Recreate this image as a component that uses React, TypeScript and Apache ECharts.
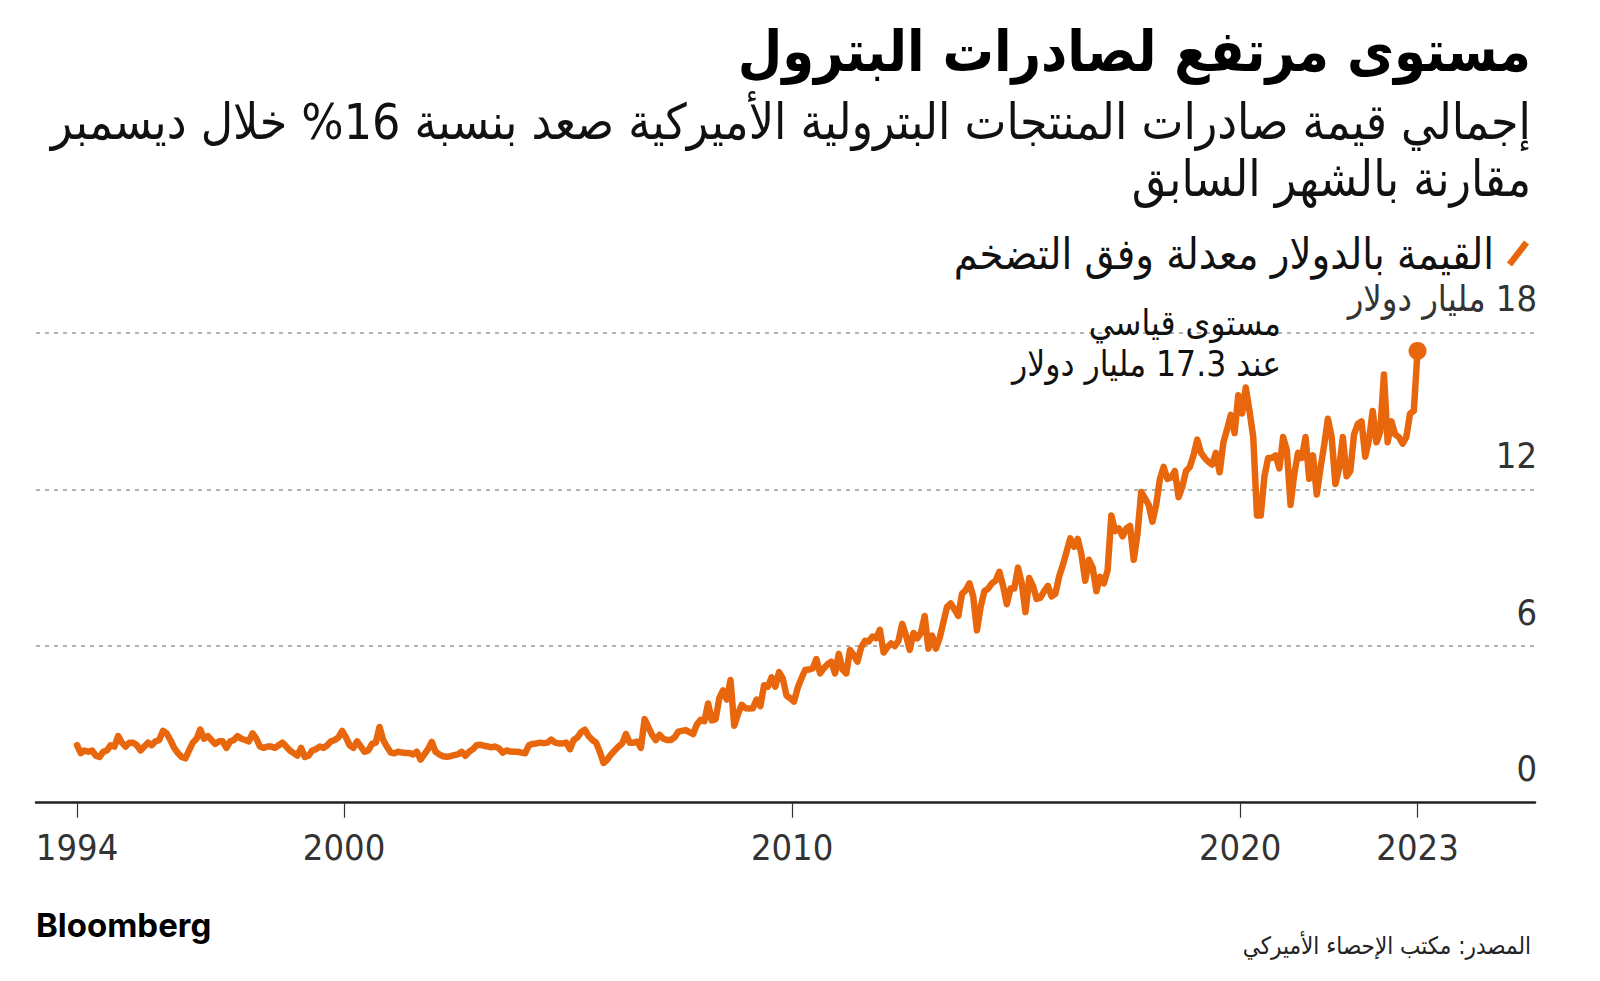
import React, { useEffect, useRef } from "react";
import * as echarts from "echarts";

// Inflation-adjusted value of US petroleum product exports, billions of dollars, monthly
const FIRST_YEAR = 1994;
const values1994_1998 = [
  2.2, 1.9, 2.0, 1.95, 2.0, 1.8, 1.75, 1.95, 2.0, 2.2, 2.15, 2.55,
  2.3, 2.15, 2.3, 2.3, 2.2, 2.0, 2.15, 2.3, 2.2, 2.35, 2.4, 2.75,
  2.65, 2.4, 2.1, 1.9, 1.75, 1.7, 2.0, 2.3, 2.45, 2.8, 2.45, 2.55,
  2.4, 2.25, 2.35, 2.35, 2.1, 2.35, 2.4, 2.55, 2.45, 2.4, 2.35, 2.65,
  2.45, 2.15, 2.1, 2.15, 2.15, 2.1, 2.2, 2.3, 2.15, 2.0, 1.9, 1.8,
];
const values1999_2003 = [
  2.1, 1.75, 1.8, 2.0, 2.05, 2.15, 2.1, 2.2, 2.35, 2.4, 2.5, 2.75,
  2.5, 2.2, 2.1, 2.35, 2.15, 1.95, 2.0, 2.25, 2.3, 2.9, 2.4, 2.14,
  1.92, 1.89, 1.95, 1.92, 1.9, 1.9, 1.85, 1.95, 1.65, 1.85, 2.05, 2.33,
  1.95, 1.85, 1.78, 1.76, 1.78, 1.82, 1.85, 1.95, 1.8, 1.95, 2.05, 2.2,
  2.22, 2.18, 2.15, 2.12, 2.15, 2.08, 1.92, 2.0, 1.96, 1.95, 1.95, 1.92,
];
const values2004_2008 = [
  1.89, 2.2, 2.25, 2.27, 2.3, 2.28, 2.3, 2.42, 2.3, 2.27, 2.27, 2.3,
  2.05, 2.4, 2.5, 2.7, 2.8, 2.55, 2.4, 2.3, 1.95, 1.52, 1.65, 1.85,
  2.0, 2.15, 2.27, 2.63, 2.3, 2.3, 2.34, 2.1, 3.2, 2.9, 2.6, 2.4,
  2.6, 2.45, 2.4, 2.4, 2.5, 2.72, 2.75, 2.78, 2.7, 2.63, 3.0, 3.17,
  3.12, 3.8, 3.15, 3.2, 4.0, 4.3, 3.95, 4.7, 2.95, 3.4, 3.75, 3.62,
];
const values2009_2013 = [
  3.61, 3.62, 3.95, 3.7, 4.5, 4.44, 4.8, 4.44, 5.0, 4.76, 4.1, 4.0,
  3.87, 4.4, 4.76, 5.08, 5.1, 5.14, 5.5, 4.95, 5.15, 5.3, 5.4, 4.95,
  5.7, 5.1, 4.95, 5.85, 5.65, 5.4, 5.95, 6.2, 6.17, 6.36, 6.3, 6.62,
  5.75, 5.95, 6.1, 6.0, 6.2, 6.85, 6.4, 5.85, 6.5, 6.29, 6.5, 7.15,
  5.9, 6.4, 5.9, 6.3, 6.9, 7.5, 7.63, 7.4, 7.15, 8.0, 8.14, 8.4,
];
const values2014_2018 = [
  7.9, 6.6, 7.5, 8.1, 8.2, 8.4, 8.5, 8.84, 8.3, 7.6, 8.2, 8.2,
  9.0, 8.4, 7.3, 8.6, 8.3, 7.8, 7.85, 8.1, 8.3, 7.9, 8.0, 8.65,
  9.1, 9.6, 10.12, 9.8, 10.1, 9.5, 8.5, 9.3, 9.0, 8.1, 8.65, 8.4,
  8.9, 11.0, 10.4, 10.5, 10.2, 10.5, 10.6, 9.3, 10.3, 11.9, 11.65, 11.4,
  10.76, 11.4, 12.4, 12.86, 12.4, 12.45, 12.7, 11.7, 12.1, 12.7, 12.85, 13.3,
];
const values2019_2023 = [
  13.9, 13.4, 13.2, 13.05, 12.95, 13.4, 12.65, 13.8, 14.3, 14.85, 14.15, 15.6,
  14.9, 15.9, 15.0, 14.0, 11.0, 11.0, 12.5, 13.2, 13.2, 13.3, 12.8, 14.0,
  13.5, 11.4, 12.6, 13.4, 13.2, 14.0, 12.4, 13.3, 11.8, 12.8, 13.7, 14.7,
  14.0, 12.2, 12.8, 14.0, 12.5, 12.7, 14.1, 14.5, 14.6, 13.25, 13.9, 15.0,
  13.8, 14.2, 16.4, 13.8, 14.6, 14.1, 14.0, 13.75, 14.0, 14.9, 15.0, 17.3,
];

const yTicks = [0, 6, 12, 18];
const yUnit = "مليار دولار";
const xTickYears = [1994, 2000, 2010, 2020, 2023];

const TITLE = "مستوى مرتفع لصادرات البترول";
const SUBTITLE =
  "إجمالي قيمة صادرات المنتجات البترولية الأميركية صعد بنسبة 16% خلال ديسمبر\nمقارنة بالشهر السابق";
const SERIES_NAME = "القيمة بالدولار معدلة وفق التضخم";
const ANNOTATION = "مستوى قياسي\nعند 17.3 مليار دولار";
const SOURCE = "المصدر: مكتب الإحصاء الأميركي";

const ORANGE = "#e8670d";
const AR = "'DejaVu Sans Condensed', 'DejaVu Sans', sans-serif";
const NUM = "'Liberation Sans Narrow', 'DejaVu Sans Condensed', 'Roboto', sans-serif";

export default function App() {
  const ref = useRef<HTMLDivElement>(null);

  useEffect(() => {
    document.body.style.margin = "0";
    if (!ref.current) return;
    const chart = echarts.init(ref.current, undefined, { renderer: "svg" });

    const all = [
      ...values1994_1998,
      ...values1999_2003,
      ...values2004_2008,
      ...values2009_2013,
      ...values2014_2018,
      ...values2019_2023,
    ];
    const points = all.map((v, i) => [FIRST_YEAR + (i + 0.5) / 12, v]);
    const firstX = points[0][0];
    const last = points[points.length - 1];
    const tickXs = xTickYears.map((y, k) =>
      k === 0 ? firstX : k === xTickYears.length - 1 ? last[0] : y
    );

    chart.setOption({
      animation: false,
      backgroundColor: "#ffffff",
      grid: { left: 36, right: 65, top: 332.6, bottom: 178.3 },
      legend: {
        data: [SERIES_NAME],
        right: 66,
        top: 227,
        align: "right",
        itemWidth: 22,
        itemHeight: 26,
        icon: "path://M0,22 L17,0 L22,4 L5,26 Z",
        textStyle: {
          fontSize: 43,
          fontFamily: AR,
          color: "#111",
          padding: [0, 8, 0, 0],
        },
      },
      xAxis: {
        type: "value",
        min: 1993.125,
        max: 2026.58,
        splitLine: { show: false },
        axisLine: { show: true, lineStyle: { color: "#222", width: 2.5 } },
        axisTick: {
          show: true,
          customValues: tickXs,
          length: 15,
          lineStyle: { color: "#333", width: 1.2 },
        },
        axisLabel: {
          customValues: tickXs,
          formatter: (v: number) => String(Math.floor(v + 1e-6)),
          margin: 27,
          fontSize: 36,
          fontFamily: NUM,
          color: "#333",
        },
      },
      yAxis: {
        type: "value",
        position: "right",
        min: 0,
        max: 18,
        interval: 6,
        axisLine: { show: false },
        axisTick: { show: false },
        splitLine: {
          show: true,
          showMinLine: false,
          lineStyle: { color: "#b2b2b2", width: 2, type: [4, 5] },
        },
        axisLabel: {
          customValues: yTicks,
          margin: 2,
          align: "right",
          verticalAlign: "bottom",
          lineHeight: 34,
          padding: [0, 0, 17, 0],
          fontSize: 36,
          fontFamily: NUM,
          color: "#333",
          formatter: (v: number) => (v === 18 ? "\u200F" + v + " " + yUnit : String(v)),
        },
      },
      series: [
        {
          name: SERIES_NAME,
          type: "line",
          data: points,
          showSymbol: false,
          symbol: "none",
          color: ORANGE,
          lineStyle: { color: ORANGE, width: 6.5, join: "round", cap: "round" },
          z: 3,
        },
        {
          name: "last",
          type: "scatter",
          data: [last],
          symbolSize: 18,
          itemStyle: { color: ORANGE, opacity: 1 },
          z: 4,
        },
      ],
      graphic: [
        {
          type: "text",
          x: 1531,
          y: 51,
          style: {
            text: TITLE,
            fill: "#000",
            font: `bold 57px ${AR}`,
            align: "right",
            textAlign: "right",
            verticalAlign: "middle",
            textVerticalAlign: "middle",
          },
        },
        {
          type: "text",
          x: 1531,
          y: 150.5,
          style: {
            text: SUBTITLE,
            fill: "#111",
            font: `49.5px ${AR}`,
            lineHeight: 57,
            align: "right",
            textAlign: "right",
            verticalAlign: "middle",
            textVerticalAlign: "middle",
          },
        },
        {
          type: "text",
          x: 1281,
          y: 343.5,
          z: 10,
          style: {
            text: ANNOTATION,
            fill: "#111",
            font: `35px ${AR}`,
            lineHeight: 41,
            align: "right",
            textAlign: "right",
            verticalAlign: "middle",
            textVerticalAlign: "middle",
          },
        },
        {
          type: "text",
          x: 36,
          y: 925,
          style: {
            text: "Bloomberg",
            fill: "#000",
            font: "bold 33px Inter, Roboto, sans-serif",
            align: "left",
            textAlign: "left",
            verticalAlign: "middle",
            textVerticalAlign: "middle",
          },
        },
        {
          type: "text",
          x: 1531,
          y: 946,
          style: {
            text: SOURCE,
            fill: "#222",
            font: `24px ${AR}`,
            align: "right",
            textAlign: "right",
            verticalAlign: "middle",
            textVerticalAlign: "middle",
          },
        },
      ],
    });

    return () => chart.dispose();
  }, []);

  return <div ref={ref} style={{ width: 1600, height: 981 }} />;
}
